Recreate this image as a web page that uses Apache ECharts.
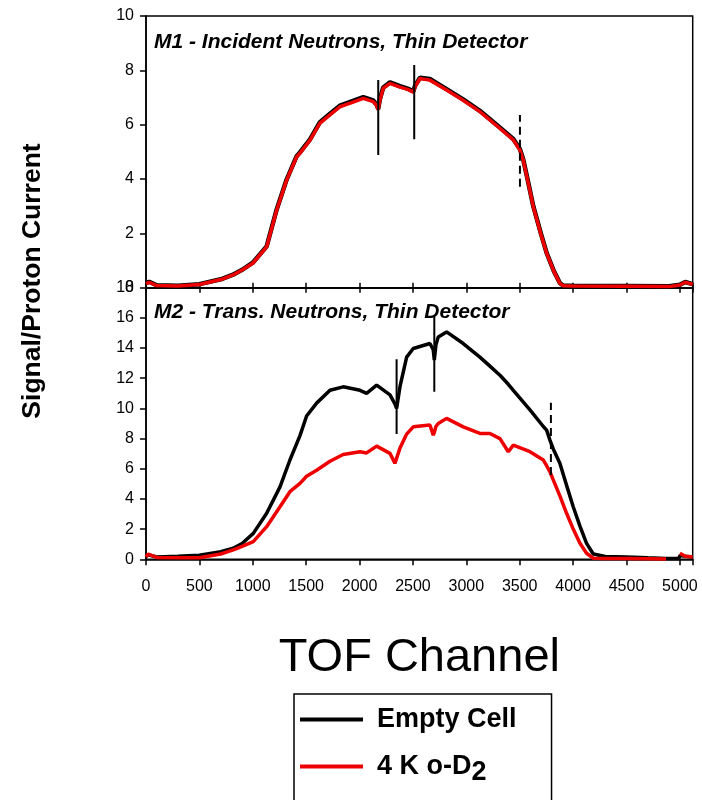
<!DOCTYPE html>
<html>
<head>
<meta charset="utf-8">
<script src="https://cdn.jsdelivr.net/npm/echarts@6/dist/echarts.min.js"></script>
<style>
html,body{margin:0;padding:0;background:#fff;}
#chart{width:702px;height:800px;}
</style>
</head>
<body>
<div id="chart"></div>
<script>
// ---- Data ----
var seriesNames = ['Empty Cell', '4 K o-D2'];
var panelTitles = ['M1 - Incident Neutrons, Thin Detector', 'M2 - Trans. Neutrons, Thin Detector'];
var yTitle = 'Signal/Proton Current';
var xTitle = 'TOF Channel';

// Top panel (M1)
var topX = [0, 30, 100, 300, 500, 700, 815, 900, 1000, 1130, 1224, 1317, 1411, 1442, 1536, 1629, 1720, 1816, 1920, 2035, 2128, 2160, 2175, 2190, 2222, 2285, 2378, 2450, 2503, 2520, 2566, 2659, 2815, 2970, 3127, 3280, 3440, 3502, 3533, 3580, 3627, 3700, 3752, 3820, 3876, 3908, 4000, 4500, 4900, 5000, 5050, 5120];
var topEmpty = [0.17, 0.22, 0.09, 0.07, 0.13, 0.31, 0.48, 0.66, 0.92, 1.52, 2.88, 3.98, 4.84, 4.98, 5.46, 6.09, 6.39, 6.70, 6.85, 7.01, 6.89, 6.74, 6.58, 6.93, 7.37, 7.56, 7.42, 7.33, 7.23, 7.43, 7.73, 7.68, 7.31, 6.93, 6.51, 6.01, 5.47, 5.10, 4.72, 3.87, 3.00, 1.97, 1.28, 0.61, 0.17, 0.08, 0.07, 0.06, 0.05, 0.11, 0.21, 0.13];
var topOD2 = [0.15, 0.2, 0.08, 0.06, 0.12, 0.3, 0.47, 0.65, 0.9, 1.5, 2.86, 3.96, 4.82, 4.95, 5.43, 6.06, 6.35, 6.66, 6.8, 6.97, 6.85, 6.7, 6.55, 6.9, 7.34, 7.52, 7.38, 7.3, 7.2, 7.4, 7.7, 7.64, 7.28, 6.9, 6.48, 5.98, 5.44, 5.07, 4.7, 3.85, 2.98, 1.95, 1.27, 0.6, 0.16, 0.07, 0.06, 0.05, 0.04, 0.1, 0.2, 0.12];

// Bottom panel (M2)
var botX = [0, 20, 100, 300, 500, 700, 817, 900, 1005, 1130, 1255, 1348, 1442, 1504, 1598, 1723, 1847, 2004, 2066, 2160, 2285, 2331, 2347, 2380, 2441, 2503, 2659, 2690, 2700, 2715, 2737, 2815, 2971, 3127, 3221, 3315, 3393, 3440, 3596, 3721, 3752, 3783, 3815, 3876, 3939, 4001, 4064, 4126, 4189, 4204, 4300, 4500, 4700, 4870, 4900, 4990, 5000, 5050, 5120];
var botEmpty = [0.2, 0.3, 0.15, 0.2, 0.27, 0.5, 0.73, 1.05, 1.72, 3.05, 4.8, 6.58, 8.2, 9.5, 10.35, 11.2, 11.43, 11.2, 11.0, 11.54, 10.9, 10.3, 10.0, 11.5, 13.4, 13.97, 14.3, 13.9, 13.2, 14.2, 14.74, 15.07, 14.3, 13.4, 12.8, 12.2, 11.6, 11.2, 9.9, 8.8, 8.56, 7.9, 7.3, 6.36, 4.9, 3.48, 2.2, 1.06, 0.35, 0.22, 0.18, 0.15, 0.1, 0.06, 0.05, 0.05, 0.25, 0.2, 0.15];
var botOD2 = [0.15, 0.35, 0.12, 0.1, 0.1, 0.35, 0.62, 0.85, 1.17, 2.16, 3.48, 4.48, 5.03, 5.5, 5.9, 6.5, 6.95, 7.13, 7.05, 7.5, 7.02, 6.36, 6.4, 7.4, 8.3, 8.78, 8.9, 8.23, 8.4, 8.8, 9.0, 9.34, 8.78, 8.34, 8.34, 8.0, 7.13, 7.57, 7.13, 6.58, 6.2, 5.8, 5.25, 4.2, 3.05, 2.0, 1.06, 0.4, 0.07, 0.06, 0.05, 0.05, 0.04, 0.02, null, null, 0.4, 0.2, 0.15];

// Vertical markers: [x, yFrom, yTo]
var topMarkSolid = [[2175, 4.88, 7.64], [2512, 5.46, 8.2]];
var topMarkDash = [[3502, 3.72, 6.36]];
var botMarkSolid = [[2347, 8.3, 13.26], [2700, 11.1, 16.07]];
var botMarkDash = [[3792, 5.58, 10.37]];

// Axis settings
var xMin = 0, xMax = 5120, xStep = 500;
var topYMax = 10, botYMax = 18, yStep = 2;

// ---- Build ----
function pairs(xs, ys) { return xs.map(function (x, i) { return [x, ys[i]]; }); }
var FONT = '"Liberation Sans", Arial, sans-serif';
var RED = '#ee0000';

var series = [];
function markerSeries(marks, gi, dashed) {
  marks.forEach(function (m, k) {
    series.push({
      name: 'marker' + gi + (dashed ? 'd' : 's') + k,
      type: 'line', xAxisIndex: gi === 0 ? 0 : 1, yAxisIndex: gi,
      data: [[m[0], m[1]], [m[0], m[2]]],
      symbol: 'none', silent: true, z: 5,
      lineStyle: { color: '#000', width: 2, type: dashed ? [8, 5] : 'solid' }
    });
  });
}

series.push({ name: seriesNames[0], type: 'line', xAxisIndex: 0, yAxisIndex: 0, data: pairs(topX, topEmpty), symbol: 'none', z: 2,
  lineStyle: { color: '#000', width: 4.5 }, itemStyle: { color: '#000' } });
series.push({ name: seriesNames[1], type: 'line', xAxisIndex: 0, yAxisIndex: 0, data: pairs(topX, topOD2), symbol: 'none', z: 3,
  lineStyle: { color: RED, width: 3.5 }, itemStyle: { color: RED } });
series.push({ name: seriesNames[0], type: 'line', xAxisIndex: 1, yAxisIndex: 1, data: pairs(botX, botEmpty), symbol: 'none', z: 2,
  lineStyle: { color: '#000', width: 3.5 }, itemStyle: { color: '#000' } });
series.push({ name: seriesNames[1], type: 'line', xAxisIndex: 1, yAxisIndex: 1, data: pairs(botX, botOD2), symbol: 'none', z: 3, connectNulls: false,
  lineStyle: { color: RED, width: 3.5 }, itemStyle: { color: RED } });
markerSeries(topMarkSolid, 0, false);
markerSeries(topMarkDash, 0, true);
markerSeries(botMarkSolid, 1, false);
markerSeries(botMarkDash, 1, true);

var axisLine = { show: true, lineStyle: { color: '#000', width: 1.5 } };
function xLabelFmt(v) { return v % xStep === 0 ? String(v) : ''; }

var option = {
  animation: false,
  backgroundColor: '#fff',
  textStyle: { fontFamily: FONT, color: '#000' },
  title: [
    { text: panelTitles[0], left: 154, top: 32, padding: 0,
      textStyle: { fontFamily: FONT, fontSize: 21, fontStyle: 'italic', fontWeight: 'bold', color: '#000' } },
    { text: panelTitles[1], left: 154, top: 302, padding: 0,
      textStyle: { fontFamily: FONT, fontSize: 21, fontStyle: 'italic', fontWeight: 'bold', color: '#000' } }
  ],
  grid: [
    { left: 146, top: 16, width: 546.7, height: 271.7, show: true, borderColor: '#000', borderWidth: 1.5, backgroundColor: 'transparent' },
    { left: 146, top: 287.7, width: 546.7, height: 271.6, show: true, borderColor: '#000', borderWidth: 1.5, backgroundColor: 'transparent' }
  ],
  xAxis: [
    { gridIndex: 0, type: 'value', min: xMin, max: xMax, interval: xStep,
      axisLine: axisLine, axisTick: { show: true, inside: true, length: 5, lineStyle: { color: '#000', width: 1.5 } },
      axisLabel: { show: false }, splitLine: { show: false } },
    { gridIndex: 1, type: 'value', min: xMin, max: xMax, interval: xStep,
      axisLine: axisLine, axisTick: { show: true, inside: false, length: 6, lineStyle: { color: '#000', width: 1.5 } },
      axisLabel: { show: true, fontSize: 16, color: '#000', fontFamily: FONT, margin: 19, formatter: xLabelFmt },
      splitLine: { show: false },
      name: xTitle, nameLocation: 'middle', nameGap: 75,
      nameTextStyle: { fontSize: 47, color: '#000', fontFamily: FONT } },
    { gridIndex: 1, type: 'value', position: 'top', min: xMin, max: xMax, interval: xStep,
      axisLine: axisLine, axisTick: { show: true, inside: true, length: 5, lineStyle: { color: '#000', width: 1.5 } },
      axisLabel: { show: false }, splitLine: { show: false } }
  ],
  yAxis: [
    { gridIndex: 0, type: 'value', min: 0, max: topYMax, interval: yStep,
      axisLine: axisLine, axisTick: { show: true, inside: false, length: 6, lineStyle: { color: '#000', width: 1.5 } },
      axisLabel: { fontSize: 16, color: '#000', fontFamily: FONT, margin: 12 }, splitLine: { show: false } },
    { gridIndex: 1, type: 'value', min: 0, max: botYMax, interval: yStep,
      axisLine: axisLine, axisTick: { show: true, inside: false, length: 6, lineStyle: { color: '#000', width: 1.5 } },
      axisLabel: { fontSize: 16, color: '#000', fontFamily: FONT, margin: 12 }, splitLine: { show: false } }
  ],
  legend: {
    data: seriesNames, orient: 'vertical', left: 294, top: 694, height: 300,
    icon: 'rect', itemWidth: 63, itemHeight: 4, itemGap: 20,
    padding: [12, 35, 40, 6],
    borderColor: '#000', borderWidth: 1.5, backgroundColor: '#fff',
    selectedMode: false,
    formatter: function (n) { return n === seriesNames[1] ? '4 K o-D{sub|2}' : n; },
    textStyle: { fontFamily: FONT, fontSize: 27, fontWeight: 'bold', color: '#000', padding: [0, 0, 0, 9],
      rich: { sub: { fontFamily: FONT, fontSize: 27, fontWeight: 'bold', color: '#000', padding: [12, 0, 0, 0] } } }
  },
  graphic: [
    { type: 'text', x: 33, y: 281, rotation: Math.PI / 2,
      style: { text: yTitle, fontFamily: FONT, fontSize: 26.5, fontWeight: 'bold', fill: '#000', align: 'center', verticalAlign: 'middle' } }
  ],
  series: series
};

var chart = echarts.init(document.getElementById('chart'), null, { renderer: 'canvas' });
chart.setOption(option);
</script>
</body>
</html>
